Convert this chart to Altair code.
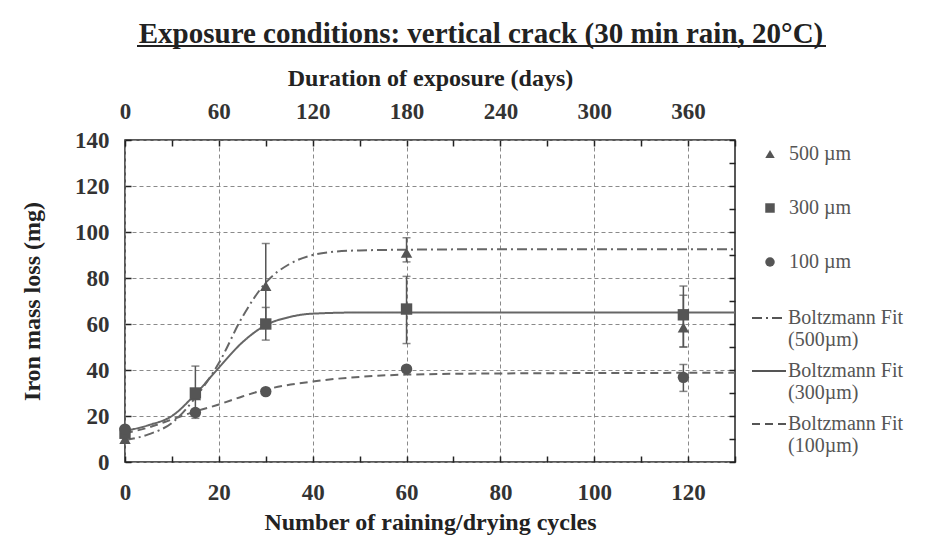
import altair as alt
import pandas as pd

# ---------------- data ----------------
cycles = [0, 15, 30, 60, 119]
series_names = ["500 µm", "300 µm", "100 µm"]
loss_500 = [10.0, 29.0, 76.5, 91.0, 58.5]
loss_300 = [12.5, 30.0, 60.0, 66.5, 64.0]
loss_100 = [14.3, 21.5, 30.6, 40.4, 36.8]

# error bars (series, cycle, low, high)
err_series = ["500 µm", "500 µm", "500 µm", "300 µm", "300 µm", "300 µm", "300 µm", "100 µm"]
err_cycle = [30, 60, 119, 15, 30, 60, 119, 119]
err_low = [58.5, 87.0, 50.0, 19.0, 53.0, 51.5, 50.0, 30.7]
err_high = [95.0, 97.5, 72.5, 41.7, 67.2, 80.7, 76.5, 42.4]

# Boltzmann fit curves
fit_names = ["Boltzmann Fit|(500µm)", "Boltzmann Fit|(300µm)", "Boltzmann Fit|(100µm)"]
fit_x_500 = [0, 5, 10, 15, 20, 25, 30, 35, 40, 45, 50, 60, 80, 130]
fit_y_500 = [9.5, 12.0, 17.0, 28.0, 43.0, 63.0, 78.0, 86.0, 90.0, 91.5, 92.0, 92.3, 92.5, 92.5]
fit_x_300 = [0, 5, 10, 15, 20, 25, 30, 35, 40, 50, 60, 130]
fit_y_300 = [13.5, 16.0, 20.0, 29.5, 41.0, 52.0, 59.5, 63.0, 64.5, 65.0, 65.0, 65.0]
fit_x_100 = [0, 5, 10, 15, 20, 25, 30, 40, 50, 60, 80, 130]
fit_y_100 = [12.5, 15.0, 18.5, 22.0, 25.0, 28.5, 31.5, 35.0, 37.0, 38.0, 38.5, 38.8]

x_ticks = list(range(0, 131, 10))
y_ticks = list(range(0, 141, 10))
day_ticks = list(range(0, 391, 30))

# ---------------- tables ----------------
pts = pd.DataFrame({
    "cycle": cycles * 3,
    "loss": loss_500 + loss_300 + loss_100,
    "series": [series_names[0]] * 5 + [series_names[1]] * 5 + [series_names[2]] * 5,
})
errs = pd.DataFrame({"series": err_series, "cycle": err_cycle, "low": err_low, "high": err_high})
fits = pd.DataFrame({
    "cycle": fit_x_500 + fit_x_300 + fit_x_100,
    "loss": fit_y_500 + fit_y_300 + fit_y_100,
    "fit": [fit_names[0]] * len(fit_x_500) + [fit_names[1]] * len(fit_x_300) + [fit_names[2]] * len(fit_x_100),
})
days = pd.DataFrame({"day": day_ticks, "yv": [0] * len(day_ticks)})

SERIF = "Liberation Serif"
INK = "#555555"

xscale = alt.Scale(domain=[0, 130], nice=False, zero=False)
yscale = alt.Scale(domain=[0, 140], nice=False)

x_axis = alt.Axis(
    values=x_ticks, orient="bottom", offset=-6, tickSize=6, tickWidth=1.5, tickColor="#222",
    domain=False, grid=True, gridColor="#8a8a8a", gridDash=[4, 3], gridWidth=1,
    gridOpacity={"condition": {"test": "datum.value % 20 === 0", "value": 1}, "value": 0},
    labelExpr="datum.value % 20 === 0 ? datum.label : ''", labelFlush=False,
    labelFont=SERIF, labelFontSize=23, labelFontWeight="bold", labelColor="#333", labelPadding=19,
    title="Number of raining/drying cycles", titleFont=SERIF, titleFontSize=24,
    titleFontWeight="bold", titleColor="#222", titlePadding=6,
)
y_axis = alt.Axis(
    values=y_ticks, orient="left", offset=-6, tickSize=6, tickWidth=1.5, tickColor="#222",
    domain=False, grid=True, gridColor="#8a8a8a", gridDash=[4, 3], gridWidth=1,
    gridOpacity={"condition": {"test": "datum.value % 20 === 0", "value": 1}, "value": 0},
    labelExpr="datum.value % 20 === 0 ? datum.label : ''", labelFlush=False,
    labelFont=SERIF, labelFontSize=23, labelFontWeight="bold", labelColor="#333", labelPadding=16,
    title="Iron mass loss (mg)", titleFont=SERIF, titleFontSize=24,
    titleFontWeight="bold", titleColor="#222", titlePadding=30,
)

lines = alt.Chart(fits).mark_line(strokeWidth=2, color="#666666", interpolate="monotone").encode(
    x=alt.X("cycle:Q", scale=xscale, axis=x_axis),
    y=alt.Y("loss:Q", scale=yscale, axis=y_axis),
    strokeDash=alt.StrokeDash(
        "fit:N",
        scale=alt.Scale(domain=fit_names, range=[[10, 4, 2, 4], [1, 0], [8, 5]]),
        legend=alt.Legend(
            title=None, orient="none", legendX=626, legendY=160,
            symbolType="stroke", symbolSize=1156, symbolStrokeWidth=2, symbolStrokeColor="#555",
            labelExpr="split(datum.label, '|')", labelFont=SERIF, labelFontSize=20,
            labelColor=INK, labelOffset=1, rowPadding=3, labelLimit=300, labelBaseline="middle",
        ),
    ),
)

rules = alt.Chart(errs).mark_rule(color=INK, strokeWidth=1.5).encode(
    x=alt.X("cycle:Q", scale=xscale),
    y=alt.Y("low:Q", scale=yscale),
    y2="high:Q",
)
caps_lo = alt.Chart(errs).mark_tick(color=INK, orient="horizontal", size=8, thickness=1.5).encode(
    x=alt.X("cycle:Q", scale=xscale), y=alt.Y("low:Q", scale=yscale)
)
caps_hi = alt.Chart(errs).mark_tick(color=INK, orient="horizontal", size=8, thickness=1.5).encode(
    x=alt.X("cycle:Q", scale=xscale), y=alt.Y("high:Q", scale=yscale)
)

points = alt.Chart(pts).mark_point(filled=True, color=INK, opacity=1, size=130).encode(
    x=alt.X("cycle:Q", scale=xscale),
    y=alt.Y("loss:Q", scale=yscale),
    shape=alt.Shape(
        "series:N",
        scale=alt.Scale(domain=series_names, range=["triangle-up", "square", "circle"]),
        legend=alt.Legend(
            title=None, orient="none", legendX=635, legendY=4,
            symbolFillColor=INK, symbolStrokeColor=INK, symbolSize=90,
            labelFont=SERIF, labelFontSize=20, labelColor=INK, labelOffset=9, rowPadding=34,
        ),
    ),
)

underline = alt.Chart(days).mark_rule(color="#222", strokeWidth=1.5).encode(
    x=alt.value(12), x2=alt.value(701), y=alt.value(-94)
)

main = alt.layer(lines, rules, caps_lo, caps_hi, points, underline)

top_layer = alt.Chart(days).mark_point(opacity=0).encode(
    x=alt.X("day:Q", scale=alt.Scale(domain=[0, 390], nice=False), axis=alt.Axis(
        values=day_ticks, orient="top", offset=-6, tickSize=6, tickWidth=1.5, tickColor="#222",
        domain=False, grid=False,
        labelExpr="datum.value % 60 === 0 ? datum.label : ''", labelFlush=False,
        labelFont=SERIF, labelFontSize=23, labelFontWeight="bold", labelColor="#333", labelPadding=17,
        title="Duration of exposure (days)", titleFont=SERIF, titleFontSize=24,
        titleFontWeight="bold", titleColor="#222", titlePadding=10,
    )),
    y=alt.Y("yv:Q", scale=yscale, axis=alt.Axis(
        values=y_ticks, orient="right", offset=-6, tickSize=6, tickWidth=1.5, tickColor="#222",
        domain=False, grid=False, labels=False, title=None,
    )),
)

chart = alt.layer(main, top_layer).resolve_scale(x="independent", y="independent").properties(
    width=610, height=322,
    autosize=alt.AutoSizeParams(type="none"),
    padding={"left": 117, "top": 132, "right": 180, "bottom": 78},
    title=alt.Title(
        "Exposure conditions: vertical crack (30 min rain, 20°C)",
        font=SERIF, fontSize=29, fontWeight="bold", color="#222", anchor="middle", dx=51, dy=20, offset=16,
    ),
).configure_view(stroke="#222", strokeWidth=1.5)

chart.save("out.html", embed_options={"renderer": "svg", "actions": False})
